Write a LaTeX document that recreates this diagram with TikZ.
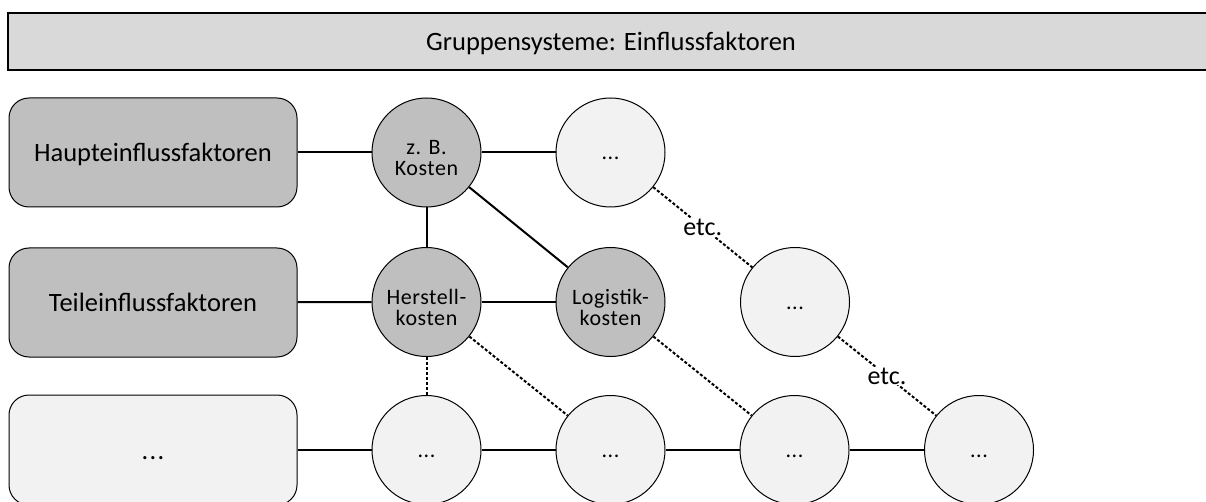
\documentclass[tikz,border=0pt]{standalone}
\usepackage{fontspec}
\setmainfont{Carlito}
\newfontfamily\circlefont[LetterSpace=2.5]{Carlito}
\definecolor{titlegray}{HTML}{D9D9D9}
\definecolor{darkgray}{HTML}{BFBFBF}
\definecolor{lightgray}{HTML}{F2F2F2}
\begin{document}
\begin{tikzpicture}[x=1pt,y=-1pt,
  titlebar/.style={draw=black, line width=2pt, fill=titlegray, minimum width=1206pt,
    minimum height=57pt, inner sep=0pt, text height=19pt, text depth=0pt,
    font=\fontsize{26.5}{30}\selectfont},
  factorbox/.style={draw=black, line width=1pt, rounded corners=20pt,
    minimum width=288pt, minimum height=109pt, inner sep=0pt,
    text height=19pt, text depth=0pt, font=\fontsize{26.5}{30}\selectfont},
  bigbox/.style={factorbox, fill=darkgray},
  emptybox/.style={factorbox, fill=lightgray, minimum height=110pt},
  circ/.style={circle, draw=black, line width=1pt, minimum size=109pt, inner sep=0pt,
    font=\circlefont\fontsize{22}{20.5}\selectfont},
  fullcirc/.style={circ, fill=darkgray, text height=25pt, text depth=20pt},
  dotcirc/.style={circ, fill=lightgray, text height=15pt, text depth=0pt},
  conn/.style={line width=2pt, black},
  connthick/.style={line width=2.3pt, black},
  dashline/.style={line width=2pt, black, dash pattern=on 3pt off 2pt},
  etclabel/.style={fill=white, inner sep=1pt, font=\fontsize{26}{30}\selectfont}
]
\clip (0,0) rectangle (1206,502);

% heading bar, running off the right edge
\node[titlebar] (title) at (611,41.4) {Gruppensysteme: Einflussfaktoren};

% row labels
\node[bigbox] (haupt) at (153,152.5) {Haupteinflussfaktoren};
\node[bigbox] (teile) at (153,302.5) {Teileinflussfaktoren};
\node[emptybox] (rest) at (153,450) {.\kern1.4pt.\kern1.4pt.};

% first row of factors
\node[fullcirc] (kosten) at (426.5,152.5) {\begin{tabular}[t]{@{}c@{}}z. B.\\Kosten\end{tabular}};
\node[dotcirc] (top2) at (610.5,152.5) {...};

% second row of factors
\node[fullcirc] (herst) at (426.5,302) {\begin{tabular}[t]{@{}c@{}}Herstell-\\kosten\end{tabular}};
\node[fullcirc] (logis) at (610.5,302) {\begin{tabular}[t]{@{}c@{}}Logistik-\\kosten\end{tabular}};
\node[dotcirc] (mid3) at (795,302) {...};

% third row of factors
\node[dotcirc] (b1) at (426.5,450) {...};
\node[dotcirc] (b2) at (610.5,450) {...};
\node[dotcirc] (b3) at (794.5,450) {...};
\node[dotcirc] (b4) at (979,450) {...};

% solid links
\draw[conn] (haupt) -- (kosten);
\draw[conn] (kosten) -- (top2);
\draw[conn] (kosten) -- (herst);
\draw[conn] (kosten) -- (logis);
\draw[conn] (teile) -- (herst);
\draw[conn] (herst) -- (logis);
\draw[connthick] (rest) -- (b1);
\draw[connthick] (b1) -- (b2);
\draw[connthick] (b2) -- (b3);
\draw[connthick] (b3) -- (b4);

% dashed links
\draw[dashline] (herst) -- (b1);
\draw[dashline] (herst) -- (b2);
\draw[dashline] (logis) -- (b3);
\draw[dashline] (top2) -- node[etclabel] (etc1) {etc.} (mid3);
\draw[dashline] (mid3) -- node[etclabel] (etc2) {etc.} (b4);
\end{tikzpicture}
\end{document}
